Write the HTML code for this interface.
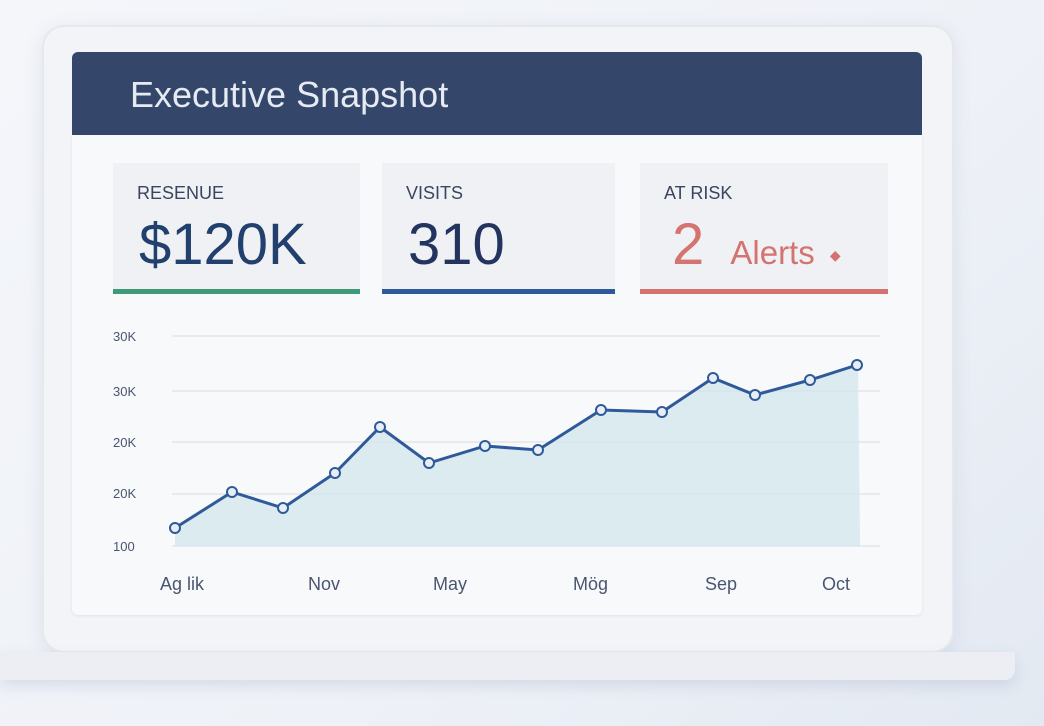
<!DOCTYPE html>
<html><head><meta charset="utf-8"><style>
body{margin:0;width:1044px;height:726px;overflow:hidden;background:linear-gradient(135deg,#f4f6fa 0%,#eef1f7 60%,#e3e9f2 100%);font-family:"Liberation Sans",sans-serif;position:relative}
.dev{position:absolute;left:42px;top:25px;width:908px;height:624px;background:#f3f4f8;border:2px solid #e6e8ee;border-radius:22px;box-shadow:0 4px 18px rgba(120,135,170,.15)}
.base{position:absolute;left:0;top:652px;width:1015px;height:28px;background:#eceef3;border-radius:0 0 10px 0;box-shadow:0 6px 14px rgba(120,135,170,.2)}
.hdr{position:absolute;left:72px;top:52px;width:850px;height:83px;background:#35466b;border-radius:6px 6px 0 0}
.hdr span{position:absolute;left:58px;top:22px;font-size:36px;color:#e6eaf2}
.panel{position:absolute;left:72px;top:135px;width:850px;height:480px;background:#f8f9fb;border-radius:0 0 6px 6px;box-shadow:0 1px 3px rgba(0,0,0,.08)}
.k{position:absolute;top:163px;height:126px;background:#eff1f5;border-bottom:5px solid}
.k .l{position:absolute;left:24px;top:20px;font-size:18px;color:#3a4560}
.k .v{position:absolute;left:26px;top:48px;font-size:58px;color:#23345f;white-space:nowrap}
</style></head><body>
<div class="dev"></div>
<div class="base"></div>
<div class="hdr"><span>Executive Snapshot</span></div>
<div class="panel"></div>
<div class="k" style="left:113px;width:247px;border-color:#3e9a78"><div class="l">RESENUE</div><div class="v" style="color:#22406e">$120K</div></div>
<div class="k" style="left:382px;width:233px;border-color:#2f5a9a"><div class="l">VISITS</div><div class="v">310</div></div>
<div class="k" style="left:640px;width:248px;border-color:#d4736f"><div class="l">AT RISK</div><div class="v" style="color:#d4736f;left:32px">2 <span style="font-size:33px;margin-left:10px">Alerts <span style="font-size:14px;margin-left:6px;vertical-align:4px">◆</span></span></div></div>
<svg style="position:absolute;left:0;top:0" width="1044" height="726">
<g stroke="#e2e5eb" stroke-width="1.5">
<line x1="172" x2="880" y1="336" y2="336"/><line x1="172" x2="880" y1="391" y2="391"/><line x1="172" x2="880" y1="442" y2="442"/><line x1="172" x2="880" y1="494" y2="494"/><line x1="172" x2="880" y1="546" y2="546"/></g>
<g font-size="13" fill="#4a5570" font-family="Liberation Sans,sans-serif">
<text x="113" y="341">30K</text><text x="113" y="396">30K</text><text x="113" y="447">20K</text><text x="113" y="498">20K</text><text x="113" y="551">100</text></g>
<g font-size="18" fill="#4a5570" font-family="Liberation Sans,sans-serif">
<text x="160" y="590">Ag lik</text><text x="308" y="590">Nov</text><text x="433" y="590">May</text><text x="573" y="590">Mög</text><text x="705" y="590">Sep</text><text x="822" y="590">Oct</text></g>
<polygon fill="#d3e6ec" opacity=".75" points="175,528 232,492 283,508 335,473 380,427 429,463 485,446 538,450 601,410 662,412 713,378 755,395 810,380 858,365 860,546 175,546"/>
<polyline fill="none" stroke="#2f5a9a" stroke-width="3" points="175,528 232,492 283,508 335,473 380,427 429,463 485,446 538,450 601,410 662,412 713,378 755,395 810,380 857,365"/>
<g fill="#e8eef6" stroke="#2f5a9a" stroke-width="2">
<circle cx="175" cy="528" r="5"/><circle cx="232" cy="492" r="5"/><circle cx="283" cy="508" r="5"/><circle cx="335" cy="473" r="5"/><circle cx="380" cy="427" r="5"/><circle cx="429" cy="463" r="5"/><circle cx="485" cy="446" r="5"/><circle cx="538" cy="450" r="5"/><circle cx="601" cy="410" r="5"/><circle cx="662" cy="412" r="5"/><circle cx="713" cy="378" r="5"/><circle cx="755" cy="395" r="5"/><circle cx="810" cy="380" r="5"/><circle cx="857" cy="365" r="5"/></g>
</svg>
</body></html>
